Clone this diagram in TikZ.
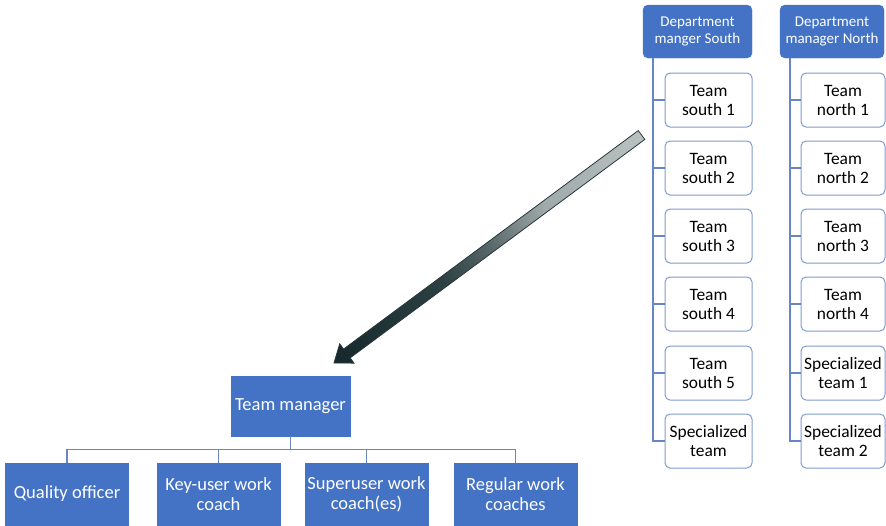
\documentclass[tikz,border=0pt]{standalone}
\usepackage{fontspec}
\setmainfont{Carlito}
\usetikzlibrary{calc}

\definecolor{boxblue}{RGB}{68,114,196}
\definecolor{unitedge}{RGB}{128,156,206}
\definecolor{linkblue}{RGB}{104,134,194}
\definecolor{arrowedge}{RGB}{38,56,58}

% colour ramp of the block arrow, dark at the head, light grey at the tail
\pgfdeclareverticalshading{arrowramp}{100bp}{%
  color(0bp)=(rgb,255:red,22;green,40;blue,43);
  color(16bp)=(rgb,255:red,22;green,40;blue,43);
  color(40bp)=(rgb,255:red,45;green,65;blue,68);
  color(50bp)=(rgb,255:red,88;green,103;blue,105);
  color(62bp)=(rgb,255:red,160;green,170;blue,170);
  color(84bp)=(rgb,255:red,186;green,193;blue,193);
  color(100bp)=(rgb,255:red,186;green,193;blue,193)}

\tikzset{
  mgr/.style={fill=boxblue, draw=boxblue, text=white, rounded corners=5pt,
    align=center, inner sep=0pt,
    font=\fontsize{15}{17}\selectfont},
  unitbox/.style={fill=white, draw=unitedge, line width=1pt, rounded corners=5pt,
    align=center, inner sep=0pt, minimum height=54pt,
    font=\fontsize{17.4}{19}\selectfont},
  rolebox/.style={fill=boxblue, draw=boxblue, text=white, align=center,
    inner sep=0pt, minimum width=123pt, minimum height=62pt,
    font=\fontsize{18.5}{20}\selectfont},
  link/.style={draw=linkblue, line width=1.4pt},
}

\begin{document}
\begin{tikzpicture}[x=1pt, y=-1pt]
\useasboundingbox (0,0) rectangle (886,525);

% department managers
\node[mgr, minimum width=109pt, minimum height=53pt] (dS) at (697.5,31.5)
  {Department\\manger South};
\node[mgr, minimum width=104pt, minimum height=53pt] (dN) at (832,31.5)
  {Department\\manager North};

% southern teams
\foreach \i/\y/\t in {1/100/{Team\\south 1}, 2/168/{Team\\south 2},
    3/236/{Team\\south 3}, 4/304/{Team\\south 4}, 5/373/{Team\\south 5},
    6/441/{Specialized\\team}}{
  \node[unitbox, minimum width=87pt] (s\i) at (708.5,\y) {\t};
}
% northern teams
\foreach \i/\y/\t in {1/100/{Team\\north 1}, 2/168/{Team\\north 2},
    3/236/{Team\\north 3}, 4/304/{Team\\north 4}, 5/373/{Specialized\\team 1},
    6/441/{Specialized\\team 2}}{
  \node[unitbox, minimum width=84pt] (n\i) at (843,\y) {\t};
}

% trunks to the team boxes
\foreach \i in {1,...,6}{
  \draw[link] ([xshift=10pt]dS.south west) |- (s\i.west);
  \draw[link] ([xshift=10pt]dN.south west) |- (n\i.west);
}

% team manager and roles
\node[fill=boxblue, draw=boxblue, text=white, inner sep=0pt,
  minimum width=119pt, minimum height=60pt,
  font=\fontsize{18.5}{20}\selectfont] (tm) at (290.5,406) {Team manager};

\node[rolebox] (r1) at (67,494) {Quality officer};
\node[rolebox] (r2) at (218.5,494) {Key-user work\\coach};
\node[rolebox] (r3) at (366.5,494) {Superuser work\\coach(es)};
\node[rolebox] (r4) at (515.5,494) {Regular work\\coaches};

\foreach \i in {1,...,4}{
  \draw[link] (tm.south) -- ++(0,13) -| (r\i.north);
}

% block arrow from the departments down to the team manager
\coordinate (tail) at (641.5,135);
\coordinate (tip) at (334,363);
\coordinate (hb) at ($(tip)!16pt!(tail)$);
\coordinate (b1) at ($(hb)!12pt!90:(tip)$);
\coordinate (b2) at ($(hb)!12pt!-90:(tip)$);
\coordinate (s1) at ($(hb)!5.5pt!90:(tip)$);
\coordinate (s2) at ($(hb)!5.5pt!-90:(tip)$);
\coordinate (t1) at ($(tail)!5.5pt!90:(tip)$);
\coordinate (t2) at ($(tail)!5.5pt!-90:(tip)$);
\shade[shading=arrowramp, shading angle=-61.2,
  draw=arrowedge, line width=0.8pt, line join=miter]
  (tip) -- (b1) -- (s1) -- (t1) -- (t2) -- (s2) -- (b2) -- cycle;
\end{tikzpicture}
\end{document}
